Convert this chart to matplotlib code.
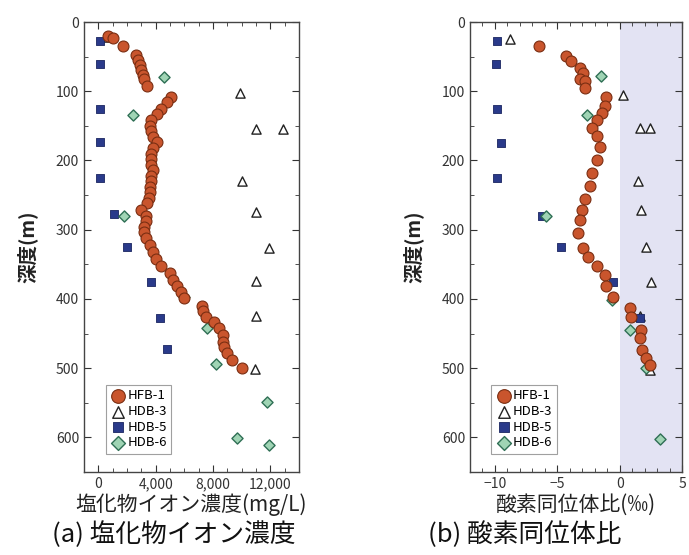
import matplotlib
matplotlib.use("Agg")
import matplotlib.pyplot as plt
from matplotlib.ticker import MultipleLocator, FuncFormatter

plt.rcParams['font.family'] = ['Noto Sans CJK JP', 'DejaVu Sans']

# ---------------- data: (a) chloride ion concentration (mg/L) vs depth (m)
hfb1_cl = [700, 1000, 1700, 2600, 2800, 2900, 3000, 3100, 3200, 3400,
           5100, 4800, 4400, 4100, 3700, 3600, 3700, 3800, 4100, 3800,
           3700, 3700, 3700, 3800, 3700, 3700, 3600, 3600, 3500, 3400,
           3000, 3300, 3300, 3200, 3200, 3300, 3600, 3800, 4000, 4400,
           5000, 5200, 5500, 5800, 6000, 7200, 7300, 7500, 8100, 8400,
           8700, 8700, 8800, 9000, 9300, 10000]
hfb1_cl_depth = [20, 23, 35, 48, 55, 62, 69, 76, 83, 92,
                 108, 116, 125, 133, 142, 150, 158, 166, 174, 182,
                 190, 198, 206, 214, 222, 230, 238, 246, 254, 262,
                 272, 280, 288, 296, 304, 312, 322, 332, 342, 352,
                 362, 372, 382, 390, 398, 410, 418, 426, 433, 442,
                 452, 462, 470, 478, 488, 500]
hdb3_cl = [700, 9900, 11000, 12900, 10000, 11000, 11900, 11000, 11000, 10900]
hdb3_cl_depth = [22, 103, 155, 155, 229, 274, 326, 374, 425, 501]
hdb5_cl = [150, 100, 100, 150, 150, 1100, 2000, 3700, 4300, 4800]
hdb5_cl_depth = [27, 60, 125, 174, 225, 278, 325, 375, 427, 473]
hdb6_cl = [4600, 2400, 1800, 6000, 7600, 8200, 11800, 9700, 11900]
hdb6_cl_depth = [79, 134, 280, 397, 442, 494, 549, 601, 611]

# ---------------- data: (b) oxygen isotope ratio (permil) vs depth (m)
hfb1_o = [-6.5, -4.3, -3.9, -3.2, -2.9, -3.2, -2.8, -2.8,
          -1.1, -1.2, -1.4, -1.8, -2.2, -1.8, -1.6, -1.8, -2.2, -2.4,
          -2.8, -3.0, -3.2, -3.3, -2.9, -2.5, -1.8, -1.2, -1.1, -0.5,
          0.8, 0.9, 1.7, 1.6, 1.8, 2.1, 2.4]
hfb1_o_depth = [35, 49, 57, 66, 73, 83, 85, 95,
                109, 122, 131, 141, 153, 165, 180, 199, 218, 237,
                256, 271, 286, 305, 326, 339, 353, 365, 382, 397,
                413, 426, 445, 457, 474, 485, 496]
hdb3_o = [-8.8, 0.3, 1.6, 2.4, 1.5, 1.7, 2.1, 2.5, 1.6, 2.4]
hdb3_o_depth = [24, 105, 153, 153, 230, 272, 325, 375, 425, 503]
hdb5_o = [-9.8, -9.9, -9.8, -9.5, -9.8, -6.2, -4.7, -0.5, 1.6, 1.8]
hdb5_o_depth = [28, 61, 125, 175, 226, 280, 325, 375, 428, 474]
hdb6_o = [-1.5, -2.6, -5.9, -0.6, 0.8, 2.1, 3.2]
hdb6_o_depth = [78, 135, 280, 401, 445, 500, 602]

labels = ['HFB-1', 'HDB-3', 'HDB-5', 'HDB-6']

# ---------------- styles
sty = {
    'HFB-1': dict(marker='o', s=62, facecolor='#c9552d', edgecolor='#7a2e12', linewidths=0.8, zorder=4),
    'HDB-3': dict(marker='^', s=44, facecolor='white', edgecolor='#222222', linewidths=1.0, zorder=3),
    'HDB-5': dict(marker='s', s=28, facecolor='#2a3a8a', edgecolor='#1a2560', linewidths=0.6, zorder=3),
    'HDB-6': dict(marker='D', s=32, facecolor='#9fd4b4', edgecolor='#2f6f55', linewidths=1.0, zorder=3),
}

fig = plt.figure(figsize=(6.89, 5.55), dpi=100)
H = 555.0
W = 689.0
ax1 = fig.add_axes([84 / W, (H - 472) / H, 215 / W, 450 / H])
ax2 = fig.add_axes([470 / W, (H - 472) / H, 212 / W, 450 / H])

series_a = [(hfb1_cl, hfb1_cl_depth), (hdb3_cl, hdb3_cl_depth),
            (hdb5_cl, hdb5_cl_depth), (hdb6_cl, hdb6_cl_depth)]
series_b = [(hfb1_o, hfb1_o_depth), (hdb3_o, hdb3_o_depth),
            (hdb5_o, hdb5_o_depth), (hdb6_o, hdb6_o_depth)]

ax2.axvspan(0, 5, color='#e3e3f3', zorder=0, lw=0)

for ax, series in ((ax1, series_a), (ax2, series_b)):
    for lab, (xv, yv) in zip(labels, series):
        ax.scatter(xv, yv, label=lab, **sty[lab])
    ax.set_ylim(650, 0)
    ax.yaxis.set_major_locator(MultipleLocator(100))
    ax.yaxis.set_minor_locator(MultipleLocator(50))
    ax.tick_params(which='both', direction='in', top=True, right=True,
                   labelsize=10, colors='#333333')
    ax.tick_params(which='major', length=5)
    ax.tick_params(which='minor', length=3)
    for sp in ax.spines.values():
        sp.set_color('#444444')
        sp.set_linewidth(1.0)
    ax.set_ylabel('深度(m)', fontsize=14, fontweight='bold', color='#222222', labelpad=13)
    leg = ax.legend(loc='lower left', bbox_to_anchor=(0.1, 0.04), fontsize=9.5,
                    frameon=True, fancybox=False, edgecolor='#888888',
                    handletextpad=0.1, borderpad=0.35, labelspacing=0.2,
                    handlelength=1.2, borderaxespad=0, markerscale=1.25)
    leg.get_frame().set_linewidth(0.8)

ax1.set_xlim(-1000, 14000)
ax1.xaxis.set_major_locator(MultipleLocator(4000))
ax1.xaxis.set_minor_locator(MultipleLocator(1000))
ax1.xaxis.set_major_formatter(FuncFormatter(lambda v, p: f'{int(v):,}'))
ax1.set_xlabel('塩化物イオン濃度(mg/L)', fontsize=15, color='#222222', labelpad=2)

ax2.set_xlim(-12, 5)
ax2.xaxis.set_major_locator(MultipleLocator(5))
ax2.xaxis.set_minor_locator(MultipleLocator(1))
ax2.set_xlabel('酸素同位体比(‰)', fontsize=15, color='#222222', labelpad=2)

fig.text(174 / W, 1 - 535 / H, '(a) 塩化物イオン濃度', fontsize=18.5,
         ha='center', va='center', color='#111111')
fig.text(525 / W, 1 - 535 / H, '(b) 酸素同位体比', fontsize=18.5,
         ha='center', va='center', color='#111111')

fig.savefig('out.png', dpi=100, facecolor='white')
